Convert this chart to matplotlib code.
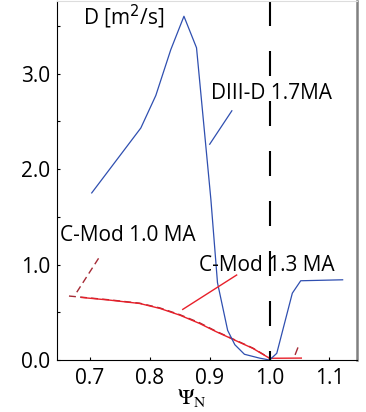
import matplotlib
matplotlib.use("Agg")
import matplotlib.pyplot as plt

plt.rcParams['font.family'] = ['Open Sans', 'DejaVu Sans']
plt.rcParams['mathtext.fontset'] = 'stix'

# DIII-D 1.7 MA profile
psi_d3d = [0.703, 0.785, 0.81, 0.835, 0.857, 0.878, 0.902, 0.913, 0.93, 0.942,
           0.958, 0.983, 1.0, 1.012, 1.038, 1.052, 1.122]
D_d3d = [1.75, 2.43, 2.77, 3.25, 3.60, 3.27, 1.68, 0.81, 0.31, 0.16,
         0.06, 0.02, 0.0, 0.07, 0.70, 0.83, 0.84]

# C-Mod 1.3 MA (solid)
psi_cm13 = [0.686, 0.733, 0.783, 0.817, 0.85, 0.883, 0.911, 0.939, 0.972, 1.0, 1.053]
D_cm13 = [0.655, 0.627, 0.592, 0.54, 0.47, 0.383, 0.296, 0.216, 0.122, 0.018, 0.02]

# C-Mod 1.0 MA (dashed)
psi_cm10 = [0.665, 0.733, 0.783, 0.817, 0.85, 0.883, 0.911, 0.939, 0.972, 1.0]
D_cm10 = [0.67, 0.63, 0.595, 0.545, 0.475, 0.39, 0.30, 0.22, 0.125, 0.02]

xticks = [0.7, 0.8, 0.9, 1.0, 1.1]
yticks = [0.0, 1.0, 2.0, 3.0]

blue = '#2f4fb0'
red = '#e8202a'
dred = '#a52a35'

fig = plt.figure(figsize=(3.66, 4.12), dpi=100)
ax = fig.add_axes([57 / 366, 1 - 360 / 412, 300 / 366, 359 / 412])

ax.plot(psi_cm10, D_cm10, color=dred, lw=1.0, dashes=(5, 3))
ax.plot(psi_cm13, D_cm13, color=red, lw=1.0)
ax.plot(psi_d3d, D_d3d, color=blue, lw=0.9)

# separatrix
ax.plot([1.0, 1.0], [3.76, 0.0], color='black', lw=1.5, dashes=(12, 12))

# leader lines
ax.plot([0.678, 0.717], [0.71, 1.09], color=dred, lw=1.0, dashes=(5, 3))
ax.plot([1.043, 1.047], [0.06, 0.125], color=dred, lw=1.0)
ax.plot([0.855, 0.945], [0.53, 0.89], color=red, lw=1.0)
ax.plot([0.9, 0.937], [2.26, 2.61], color=blue, lw=0.9)

fs = 15
ax.text(0.688, 3.59, 'D [m$^2$/s]', fontsize=fs, va='center', ha='left',
        math_fontfamily='dejavusans')
ax.text(0.903, 2.79, 'DIII-D 1.7MA', fontsize=fs, va='center', ha='left')
ax.text(0.65, 1.30, 'C-Mod 1.0 MA', fontsize=fs, va='center', ha='left')
ax.text(0.882, 0.99, 'C-Mod 1.3 MA', fontsize=fs, va='center', ha='left')

ax.set_xlim(0.645, 1.146)
ax.set_ylim(0, 3.76)
ax.set_xticks(xticks)
ax.set_xticklabels(['%.1f' % v for v in xticks])
ax.set_yticks(yticks)
ax.set_yticklabels(['%.1f' % v for v in yticks])
ax.set_yticks([0.5, 1.5, 2.5, 3.5], minor=True)
ax.tick_params(which='both', direction='in', length=2, width=0.8, labelsize=fs)
ax.tick_params(axis='x', pad=6)
ax.tick_params(axis='y', pad=5)

ax.set_xlabel(r'$\Psi_{\rm N}$', fontsize=16)
ax.xaxis.set_label_coords(0.45, -0.075)

ax.spines['left'].set_color('black')
ax.spines['bottom'].set_color('black')
ax.spines['right'].set_color('#808080')
ax.spines['right'].set_linewidth(1.8)
ax.spines['top'].set_color('#dddddd')

fig.savefig('out.png', dpi=100)
